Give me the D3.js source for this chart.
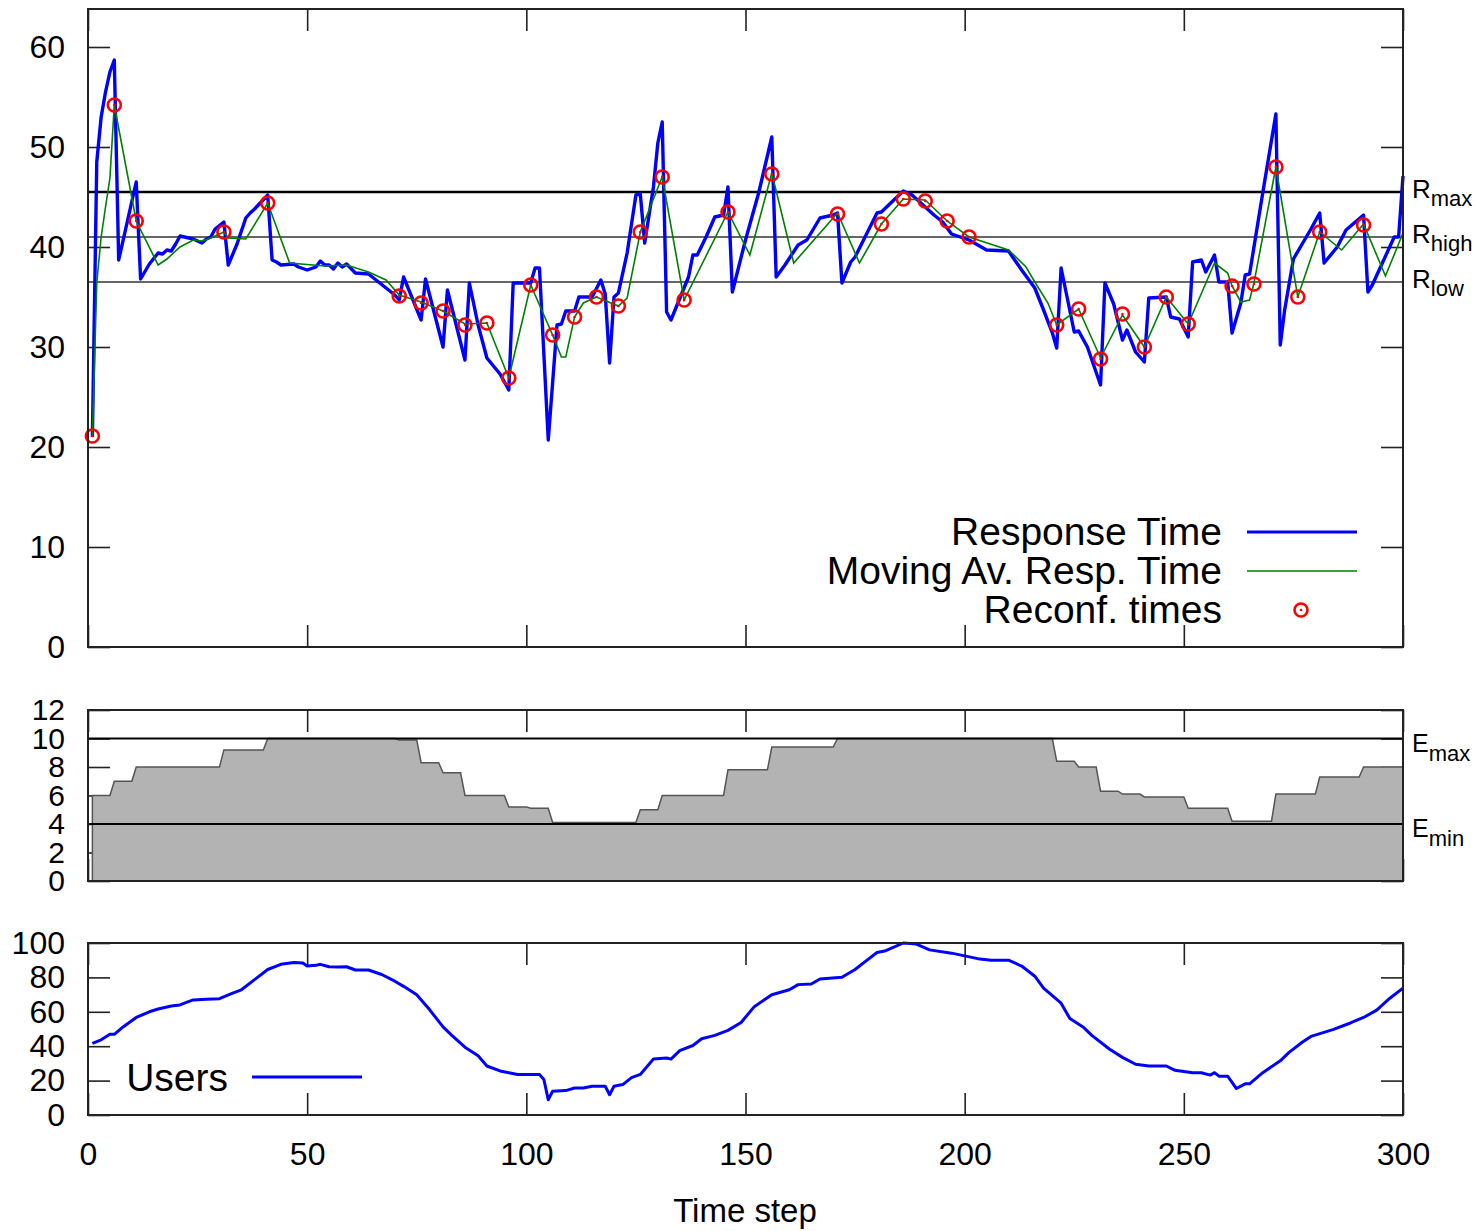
<!DOCTYPE html>
<html>
<head>
<meta charset="utf-8">
<title>Response time, resources and users</title>
<style>
  body { margin: 0; background: #fff; }
  text { font-family: "Liberation Sans", Arial, sans-serif; fill: #000; }
</style>
</head>
<body>
<script src="https://d3js.org/d3.v7.min.js"></script>
<script>
// Response time, one vertex per [time step, value]
const responseTime = [
  [1,21.0],[2,48.5],[3,53],[4,55.5],[5,57.5],[6,58.7],[7,38.7],[11,46.5],[12,36.8],[14,38.3],
  [16,39.4],[17,39.3],[18,39.7],[19,39.6],[20,40.3],[21,41.1],[24,40.8],[26,40.4],[27,40.8],[28,41.0],
  [29,41.8],[31,42.5],[32,38.2],[34,40.3],[36,42.9],[37,43.4],[38,43.8],[41,45.2],[42,38.7],[43,38.5],
  [44,38.2],[47,38.3],[48,38.0],[50,37.7],[52,38.0],[53,38.6],[54,38.2],[55,38.2],[56,37.8],[57,38.4],
  [58,38.0],[59,38.3],[61,37.4],[64,37.3],[66,36.6],[68,35.9],[70,35.2],[71,34.7],[72,37.0],[76,32.7],
  [77,36.8],[81,30.0],[82,35.7],[86,28.7],[87,36.4],[89,32.2],[91,28.9],[94,27.3],[96,25.7],[97,36.4],
  [101,36.4],[102,37.9],[103,37.9],[105,20.7],[107,32.2],[108,32.3],[109,33.6],[111,33.6],[112,35.0],[115,35.0],
  [117,36.7],[118,35.3],[119,28.4],[120,35.0],[121,35.4],[123,39.4],[125,45.2],[126,45.3],[127,40.4],[129,46.0],
  [130,50.4],[131,52.5],[132,33.5],[133,32.7],[137,37.0],[138,39.2],[139,39.2],[141,41.0],[143,43.0],[145,43.2],
  [146,46.0],[147,35.5],[150,40.7],[153,45.4],[156,51.0],[157,37.0],[159,38.2],[162,40.2],[164,40.7],[167,42.9],
  [170,43.2],[171,43.4],[172,36.4],[174,38.5],[175,39.0],[180,43.4],[181,43.5],[186,45.6],[188,45.2],[191,44.0],
  [193,43.2],[195,42.5],[197,41.3],[201,40.7],[203,40.2],[205,39.7],[210,39.6],[213,37.7],[216,35.9],[218,33.7],
  [220,31.4],[221,29.9],[222,37.9],[225,31.5],[226,31.6],[228,30.0],[231,26.2],[232,36.4],[234,34.3],[236,30.7],
  [237,31.7],[239,29.5],[241,28.5],[242,34.9],[246,35.0],[247,33.0],[249,32.8],[251,31.0],[252,38.5],[254,38.7],
  [255,37.5],[257,39.2],[258,36.5],[260,36.5],[261,31.4],[263,34.4],[264,37.2],[265,37.3],[268,45.4],[271,53.3],
  [272,30.2],[273,33.7],[275,38.8],[277,40.3],[279,41.8],[281,43.4],[282,38.4],[285,40.0],[287,41.7],[291,43.2],
  [292,35.5],[293,36.2],[298,41.0],[299,41.0],[300,47.1]
];

// Moving average of the response time
const movingAverage = [
  [1,21.1],[2,36.4],[3,41.0],[4,44.0],[5,46.9],[6,54.2],[11,42.6],[16,38.2],[18,38.8],[21,40.0],
  [24,40.7],[26,40.6],[28,40.9],[31,41.5],[32,40.9],[36,40.8],[41,44.4],[46,38.4],[54,38.1],[59,38.2],
  [64,37.5],[68,36.7],[71,35.2],[76,34.5],[81,33.6],[86,32.3],[91,32.4],[96,26.9],[101,36.2],[106,31.2],
  [108,29.0],[109,29.0],[111,33.0],[113,34.4],[116,35.0],[121,34.1],[123,34.9],[126,41.5],[131,47.0],[136,34.7],
  [146,43.5],[151,39.2],[156,47.4],[161,38.4],[171,43.4],[176,38.4],[181,42.3],[186,44.8],[191,44.7],[196,42.6],
  [201,41.0],[210,39.7],[211,39.3],[214,38.0],[216,36.5],[219,34.4],[221,32.2],[226,33.8],[231,28.9],[236,33.2],
  [241,30.0],[246,35.0],[251,32.3],[257,38.4],[260,37.4],[261,36.1],[263,34.5],[265,34.7],[266,36.4],[271,48.0],
  [276,35.0],[281,41.5],[286,39.7],[291,42.3],[296,37.1],[300,41.4]
];

// Reconfiguration times
const reconfTimes = [
  [1,21.1],[6,54.2],[11,42.6],[31,41.5],[41,44.4],[71,35.1],[76,34.4],[81,33.6],[86,32.2],[91,32.4],
  [96,26.9],[101,36.2],[106,31.2],[111,33.0],[116,35.0],[121,34.1],[126,41.5],[131,47.0],[136,34.7],[146,43.5],
  [156,47.3],[171,43.3],[181,42.3],[186,44.8],[191,44.6],[196,42.6],[201,41.0],[221,32.2],[226,33.8],[231,28.8],
  [236,33.3],[241,30.0],[246,35.0],[251,32.3],[261,36.1],[266,36.3],[271,48.0],[276,35.0],[281,41.5],[291,42.2]
];

const thresholdNames = ['max', 'high', 'low'];
const thresholdValues = [45.5, 41.0, 36.5];

// Allocated resources: the step at which the level changes, and the new level
const energySteps = [1,6,11,31,41,71,76,81,86,96,101,106,126,131,146,156,171,221,226,231,236,241,251,261,271,281,291];
const energyLevels = [6,7,8,9.2,10,9.9,8.3,7.6,6,5.2,5.1,4.1,5,6,7.8,9.4,10,8.4,8,6.3,6.1,5.9,5.1,4.2,6.1,7.3,8];
const energyLimitNames = ['max', 'min'];
const energyLimitValues = [10, 4];

const users = [
  [1,41.7],[3,43.7],[5,46.9],[6,46.9],[8,51.2],[11,56.7],[14,60],[16,61.6],[19,63.4],[21,64],
  [22,65],[24,66.9],[27,67.3],[30,67.6],[33,70.9],[35,72.8],[38,78.7],[41,84.6],[44,87.6],[47,88.6],
  [49,88.4],[50,86.6],[52,87],[53,87.6],[55,86.2],[57,86],[59,86.2],[61,84.3],[64,84.3],[67,81.7],
  [70,77.8],[72,74.8],[75,69.9],[78,61],[81,51.2],[83,46.3],[86,39.4],[89,34.4],[91,28.5],[94,25.6],
  [96,24.6],[98,23.6],[103,23.6],[104,20.7],[105,8.9],[106,13.8],[109,14.2],[111,15.7],[113,15.7],[115,16.7],
  [118,16.7],[119,11.8],[120,16.7],[122,17.7],[124,21.7],[126,23.6],[129,32.5],[132,33.1],[133,32.5],[135,37.4],
  [138,40.4],[140,44.3],[143,46.3],[146,49.2],[149,53.8],[152,63],[156,69.9],[160,72.8],[162,75.8],[165,76.2],
  [167,79.1],[172,80.1],[175,84.6],[177,88.6],[180,94.5],[182,95.5],[186,100],[189,99.4],[192,96],[197,94.1],
  [200,92.5],[203,90.9],[206,90],[210,90],[213,86.6],[216,80.7],[218,73.8],[222,65],[224,56.1],[227,51.2],
  [229,46.3],[233,38.4],[236,33.5],[239,29.5],[242,28.5],[246,28.5],[248,26],[252,24.6],[254,24.6],[256,23.2],
  [257,24.6],[258,22.6],[260,22.6],[262,15.4],[264,18.1],[265,18.1],[268,24.6],[272,31.5],[274,36.4],[277,42.3],
  [279,45.7],[284,49.6],[288,53.5],[291,56.7],[294,61],[297,67.9],[300,73.8]
];

const xTicks = [0, 50, 100, 150, 200, 250, 300];
const topTicks = [0, 10, 20, 30, 40, 50, 60];
const midTicks = [0, 2, 4, 6, 8, 10, 12];
const lowTicks = [0, 20, 40, 60, 80, 100];

const svg = d3.select('body').append('svg')
    .attr('width', 1479)
    .attr('height', 1231);

const x = d3.scaleLinear().domain([0, 300]).range([88, 1403]);
const yTop = d3.scaleLinear().domain([0, 63.8]).range([647, 9]);
const yMid = d3.scaleLinear().domain([0, 12]).range([881, 710]);
const yLow = d3.scaleLinear().domain([0, 100]).range([1115, 943]);

// ticks on all four sides, pointing inwards like gnuplot
function drawTicks(y, yTicks, xLabels, labelSize) {
    const g = svg.append('g');
    const [yb, yt] = y.range();
    g.append('g').attr('transform', `translate(0,${yb})`)
        .call(d3.axisBottom(x).tickValues(xTicks).tickSize(-22).tickPadding(27)
            .tickFormat(xLabels ? d3.format('d') : ''));
    g.append('g').attr('transform', `translate(0,${yt})`)
        .call(d3.axisTop(x).tickValues(xTicks).tickSize(-22).tickFormat(''));
    g.append('g').attr('transform', 'translate(88,0)')
        .call(d3.axisLeft(y).tickValues(yTicks).tickSize(-22).tickPadding(23));
    g.append('g').attr('transform', 'translate(1403,0)')
        .call(d3.axisRight(y).tickValues(yTicks).tickSize(-22).tickFormat(''));
    g.selectAll('.domain').remove();
    g.selectAll('.tick line').attr('stroke', '#222').attr('stroke-width', 1.6);
    g.selectAll('.tick text')
        .attr('font-size', 32)
        .attr('font-family', '"Liberation Sans", Arial, sans-serif')
        .attr('fill', '#000');
    // the y labels of the short middle panel are packed tighter
    if (labelSize) g.selectAll('g:nth-child(3) .tick text').attr('font-size', labelSize);
    return g;
}

function drawFrame(y) {
    const [yb, yt] = y.range();
    svg.append('rect')
        .attr('x', x(0)).attr('y', yt)
        .attr('width', x(300) - x(0)).attr('height', yb - yt)
        .attr('fill', 'none').attr('stroke', '#222').attr('stroke-width', 2);
}

function subLabel(xPos, yPos, main, sub, mainSize, subSize, shift) {
    const t = svg.append('text').attr('x', xPos).attr('y', yPos);
    t.append('tspan').attr('font-size', mainSize).text(main);
    t.append('tspan').attr('font-size', subSize).attr('dy', shift).text(sub);
}

// ---------- top panel: response time ----------
drawTicks(yTop, topTicks, false);

thresholdValues.forEach((v, i) => {
    svg.append('line')
        .attr('x1', x(0)).attr('x2', x(300))
        .attr('y1', yTop(v)).attr('y2', yTop(v))
        .attr('stroke', i === 0 ? '#000' : '#333')
        .attr('stroke-width', i === 0 ? 2.4 : 1.5);
    subLabel(1412, yTop(v) + 6, 'R', thresholdNames[i], 26, 22, 8);
});

const lineTop = d3.line().x(d => x(d[0])).y(d => yTop(d[1]));

svg.append('path').datum(responseTime)
    .attr('d', lineTop)
    .attr('fill', 'none').attr('stroke', '#0000ff').attr('stroke-width', 3.4)
    .attr('stroke-linejoin', 'round');

svg.append('path').datum(movingAverage)
    .attr('d', lineTop)
    .attr('fill', 'none').attr('stroke', '#008000').attr('stroke-width', 1.6);

const marks = svg.append('g');
marks.selectAll('circle.ring').data(reconfTimes).enter().append('circle')
    .attr('class', 'ring')
    .attr('cx', d => x(d[0])).attr('cy', d => yTop(d[1])).attr('r', 6.5)
    .attr('fill', 'none').attr('stroke', '#ff0000').attr('stroke-width', 2.6);
marks.selectAll('circle.dot').data(reconfTimes).enter().append('circle')
    .attr('class', 'dot')
    .attr('cx', d => x(d[0])).attr('cy', d => yTop(d[1])).attr('r', 1.3)
    .attr('fill', '#ff0000');

// legend
const legend = [
    {name: 'Response Time', y: 532},
    {name: 'Moving Av. Resp. Time', y: 571},
    {name: 'Reconf. times', y: 610}
];
legend.forEach(l => {
    svg.append('text').attr('x', 1222).attr('y', l.y + 13)
        .attr('text-anchor', 'end').attr('font-size', 39).text(l.name);
});
svg.append('line').attr('x1', 1247).attr('x2', 1357).attr('y1', 532).attr('y2', 532)
    .attr('stroke', '#0000ff').attr('stroke-width', 3.2);
svg.append('line').attr('x1', 1247).attr('x2', 1357).attr('y1', 571).attr('y2', 571)
    .attr('stroke', '#008000').attr('stroke-width', 1.6);
svg.append('circle').attr('cx', 1301).attr('cy', 610).attr('r', 6.5)
    .attr('fill', 'none').attr('stroke', '#ff0000').attr('stroke-width', 2.6);
svg.append('circle').attr('cx', 1301).attr('cy', 610).attr('r', 1.3).attr('fill', '#ff0000');

drawFrame(yTop);

// ---------- middle panel: resources ----------
drawTicks(yMid, midTicks, false, 30);

const energyPoints = [];
energySteps.forEach((t, i) => {
    if (i > 0) energyPoints.push([t - 1, energyLevels[i - 1]]);
    energyPoints.push([t, energyLevels[i]]);
});
energyPoints.push([300, energyLevels[energyLevels.length - 1]]);

svg.append('path').datum(energyPoints)
    .attr('d', d3.area().x(d => x(d[0])).y0(yMid(0)).y1(d => yMid(d[1])))
    .attr('fill', '#b3b3b3');
svg.append('path').datum([[1, 0]].concat(energyPoints))
    .attr('d', d3.line().x(d => x(d[0])).y(d => yMid(d[1])))
    .attr('fill', 'none').attr('stroke', '#555').attr('stroke-width', 1.5);

energyLimitValues.forEach((v, i) => {
    svg.append('line')
        .attr('x1', x(0)).attr('x2', x(300))
        .attr('y1', yMid(v)).attr('y2', yMid(v))
        .attr('stroke', '#000').attr('stroke-width', 2.2);
    subLabel(1412, yMid(v) + 13, 'E', energyLimitNames[i], 25, 22, 9);
});

drawFrame(yMid);

// ---------- bottom panel: users ----------
drawTicks(yLow, lowTicks, true);

svg.append('path').datum(users)
    .attr('d', d3.line().x(d => x(d[0])).y(d => yLow(d[1])))
    .attr('fill', 'none').attr('stroke', '#0000ff').attr('stroke-width', 3)
    .attr('stroke-linejoin', 'round');

svg.append('text').attr('x', 228).attr('y', 1091)
    .attr('text-anchor', 'end').attr('font-size', 39).text('Users');
svg.append('line').attr('x1', 252).attr('x2', 362).attr('y1', 1077).attr('y2', 1077)
    .attr('stroke', '#0000ff').attr('stroke-width', 3);

drawFrame(yLow);

svg.append('text').attr('x', 745).attr('y', 1222)
    .attr('text-anchor', 'middle').attr('font-size', 33).text('Time step');
</script>
</body>
</html>
